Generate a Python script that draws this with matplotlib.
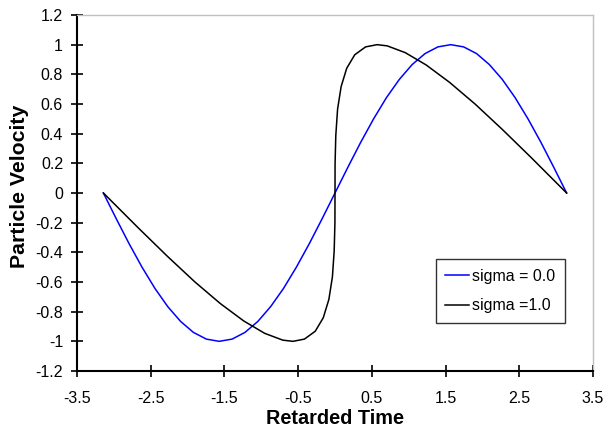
import matplotlib
matplotlib.use("Agg")
import matplotlib.pyplot as plt

# sigma = 0.0
x_blue = [-3.142, -2.967, -2.793, -2.618, -2.443, -2.269, -2.094, -1.920, -1.745,
          -1.571, -1.396, -1.222, -1.047, -0.873, -0.698, -0.524, -0.349, -0.175,
          0.000, 0.175, 0.349, 0.524, 0.698, 0.873, 1.047, 1.222, 1.396,
          1.571, 1.745, 1.920, 2.094, 2.269, 2.443, 2.618, 2.793, 2.967, 3.142]
y_blue = [0.000, -0.174, -0.342, -0.500, -0.643, -0.766, -0.866, -0.940, -0.985,
          -1.000, -0.985, -0.940, -0.866, -0.766, -0.643, -0.500, -0.342, -0.174,
          0.000, 0.174, 0.342, 0.500, 0.643, 0.766, 0.866, 0.940, 0.985,
          1.000, 0.985, 0.940, 0.866, 0.766, 0.643, 0.500, 0.342, 0.174, 0.000]

# sigma = 1.0
x_black = [-3.142, -2.661, -2.273, -1.902, -1.554, -1.237, -0.954, -0.708, -0.571,
           -0.415, -0.268, -0.159, -0.083, -0.035, -0.011, -0.001, 0.000,
           0.001, 0.011, 0.035, 0.083, 0.159, 0.268, 0.415,
           0.571, 0.708, 0.954, 1.237, 1.554, 1.902, 2.273, 2.661, 3.142]
y_black = [0.000, -0.239, -0.427, -0.599, -0.746, -0.863, -0.946, -0.992, -1.000,
           -0.985, -0.932, -0.841, -0.717, -0.565, -0.389, -0.199, 0.000,
           0.199, 0.389, 0.565, 0.717, 0.841, 0.932, 0.985,
           1.000, 0.992, 0.946, 0.863, 0.746, 0.599, 0.427, 0.239, 0.000]

labels = ["sigma = 0.0", "sigma =1.0"]
x_ticks = [-3.5, -2.5, -1.5, -0.5, 0.5, 1.5, 2.5, 3.5]
y_ticks = [-1.2, -1.0, -0.8, -0.6, -0.4, -0.2, 0.0, 0.2, 0.4, 0.6, 0.8, 1.0, 1.2]
y_tick_labels = ["-1.2", "-1", "-0.8", "-0.6", "-0.4", "-0.2", "0", "0.2", "0.4",
                 "0.6", "0.8", "1", "1.2"]

plt.rcParams['font.family'] = ['Liberation Sans', 'DejaVu Sans']

fig = plt.figure(figsize=(6.13, 4.29), dpi=100)
ax = fig.add_axes([77 / 613, 1 - 371 / 429, (593 - 77) / 613, (371 - 15) / 429])

ax.plot(x_blue, y_blue, color='#0000ff', lw=1.1, label=labels[0])
ax.plot(x_black, y_black, color='black', lw=1.1, label=labels[1])

ax.set_xlim(-3.5, 3.5)
ax.set_ylim(-1.2, 1.2)
ax.set_xticks(x_ticks)
ax.set_xticklabels([f"{v:g}" for v in x_ticks])
ax.set_yticks(y_ticks)
ax.set_yticklabels(y_tick_labels)
ax.tick_params(direction='inout', length=9, width=1.2, labelsize=11.5)
ax.tick_params(axis='x', pad=10)
ax.tick_params(axis='y', pad=5.5)

for s in ['left', 'bottom']:
    ax.spines[s].set_linewidth(1.5)
for s in ['top', 'right']:
    ax.spines[s].set_color('#c0c0c0')
    ax.spines[s].set_linewidth(1.0)

ax.set_xlabel("Retarded Time", fontsize=14.3, fontweight='bold')
ax.set_ylabel("Particle Velocity", fontsize=15.3, fontweight='bold')
ax.xaxis.set_label_coords((335 - 77) / 516, -(419 - 371) / 356)
ax.xaxis.label.set_verticalalignment('center')
ax.yaxis.set_label_coords(-(77 - 20) / 516, (371 - 186) / 356)
ax.yaxis.label.set_verticalalignment('center')

leg = ax.legend(loc='lower right', bbox_to_anchor=((565 - 77) / 516, (371 - 323) / 356),
                frameon=True, fancybox=False, edgecolor='black', fontsize=11.5,
                handlelength=1.5, handletextpad=0.2, labelspacing=0.9,
                borderpad=0.6, borderaxespad=0)
leg.get_frame().set_linewidth(1.0)

fig.savefig("out.png", dpi=100)
